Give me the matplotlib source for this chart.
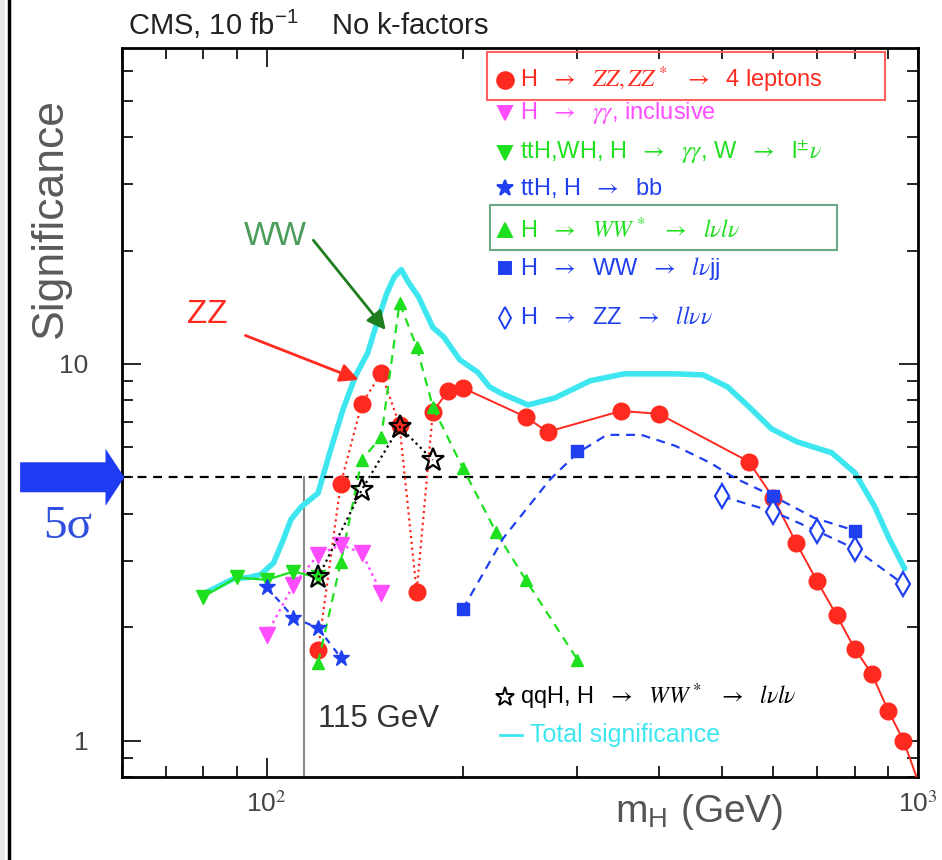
import matplotlib.pyplot as plt
from matplotlib.lines import Line2D
from matplotlib.patches import Rectangle
from matplotlib.ticker import NullFormatter, FixedLocator

plt.rcParams['font.family'] = ['Liberation Sans', 'DejaVu Sans']
plt.rcParams['mathtext.fontset'] = 'stix'

# --- data (mH in GeV, significance) ---
# H -> ZZ(*) -> 4 leptons
zz_m = [120, 130, 140, 150, 160, 170, 180, 190, 200, 250, 270, 350, 400,
        550, 600, 650, 700, 750, 800, 850, 900, 950]
zz_s = [1.74, 4.81, 7.83, 9.46, 6.89, 2.48, 7.46, 8.48, 8.64, 7.23, 6.60,
        7.50, 7.37, 5.50, 4.40, 3.35, 2.65, 2.15, 1.75, 1.50, 1.20, 1.00]
zz_tail_m = [950, 1000]
zz_tail_s = [1.00, 0.78]

# H -> gamma gamma inclusive
gg_m = [100, 110, 120, 130, 140, 150]
gg_s = [1.91, 2.59, 3.11, 3.31, 3.15, 2.47]

# ttH, WH, H -> gamma gamma, W -> l nu
ttgg_m = [80, 90, 100, 110, 120]
ttgg_s = [2.41, 2.71, 2.67, 2.81, 2.71]

# ttH, H -> bb
ttbb_m = [100, 110, 120, 130]
ttbb_s = [2.56, 2.12, 1.99, 1.66]

# H -> WW* -> l nu l nu
ww_m = [120, 130, 140, 150, 160, 170, 180, 200, 225, 250, 300]
ww_s = [1.61, 2.97, 5.56, 6.40, 14.5, 11.1, 7.69, 5.30, 3.58, 2.67, 1.64]

# H -> WW -> l nu jj (markers + drawn curve)
wwjj_m = [200, 300, 600, 800]
wwjj_s = [2.23, 5.88, 4.47, 3.61]
wwjj_curve_m = [200, 231, 272, 300, 333, 376, 424, 480, 523, 600, 693, 800]
wwjj_curve_s = [2.23, 3.45, 4.92, 5.80, 6.48, 6.48, 6.06, 5.46, 4.98, 4.45, 3.90, 3.61]

# H -> ZZ -> ll nu nu
zznn_m = [500, 600, 700, 800, 950]
zznn_s = [4.45, 4.05, 3.60, 3.23, 2.60]

# qqH, H -> WW* -> l nu l nu
qqh_m = [120, 140, 160, 180]
qqh_s = [2.71, 4.63, 6.81, 5.56]

# total significance
tot_m = [80, 89, 94, 98, 102.5, 106, 109, 113, 120, 125, 131, 137, 143, 148,
         153, 157, 161, 165, 171, 180, 187, 198, 211, 220, 229, 252, 277, 314,
         354, 424, 468, 510, 550, 596, 652, 737, 800, 858, 902, 954]
tot_s = [2.45, 2.69, 2.71, 2.76, 2.96, 3.40, 3.86, 4.17, 4.54, 5.80, 7.56,
         9.30, 10.7, 13.0, 15.4, 17.0, 17.8, 16.5, 15.1, 12.5, 11.8, 10.25,
         9.5, 8.69, 8.36, 7.78, 8.12, 9.02, 9.41, 9.41, 9.35, 8.69, 7.7,
         6.72, 6.21, 5.81, 5.14, 4.18, 3.45, 2.86]

RED = '#ff2a1f'
MAG = '#ff4dff'
GRN = '#1fe01f'
BLU = '#2040f0'
CYA = '#3ee6f0'

W, H = 942, 860


def fx(x):
    return x / W


def fy(y):
    return 1 - y / H


fig = plt.figure(figsize=(W / 100, H / 100), dpi=100)
ax = fig.add_axes([fx(122), fy(777), (918 - 122) / W, (777 - 48) / H])
ax.set_xscale('log')
ax.set_yscale('log')
ax.set_xlim(60, 1000)
ax.set_ylim(0.8, 69)

ax.plot(tot_m, tot_s, color=CYA, lw=4, solid_capstyle='round', zorder=2)

ax.axhline(5, color='k', ls=(0, (4, 3)), lw=1.6, zorder=3)
ax.plot([114, 114], [0.8, 5], color='#888888', lw=1.5, zorder=1)

# ZZ -> 4l
ax.plot(zz_m[:7], zz_s[:7], ls=':', color=RED, lw=1.6, zorder=4)
ax.plot(zz_m[6:], zz_s[6:], '-', color=RED, lw=1.4, zorder=4)
ax.plot(zz_tail_m, zz_tail_s, '-', color=RED, lw=1.4, zorder=4)
ax.plot(zz_m, zz_s, 'o', ms=12, color=RED, zorder=5)

# WW -> 2l2nu
ax.plot(ww_m, ww_s, ls=(0, (4, 3)), color=GRN, lw=1.6, marker='^', ms=9, zorder=6)

# gamma gamma inclusive
ax.plot(gg_m, gg_s, ls=':', color=MAG, lw=1.8, marker='v', ms=11, zorder=6)

# ttH, WH gamma gamma
ax.plot(ttgg_m, ttgg_s, '-', color=GRN, lw=1.6, marker='v', ms=10, zorder=6)

# ttH bb
ax.plot(ttbb_m, ttbb_s, ls=(0, (3, 3)), color=BLU, lw=1.6, marker='*', ms=12, zorder=6)

# WW -> lnu jj
ax.plot(wwjj_curve_m, wwjj_curve_s, ls=(0, (4, 3)), color=BLU, lw=1.6, zorder=6)
ax.plot(wwjj_m, wwjj_s, 's', color=BLU, ms=9, zorder=7)

# ZZ -> ll nu nu
ax.plot(zznn_m, zznn_s, ls=(0, (4, 3)), color=BLU, lw=1.6, marker='d', ms=12,
        mfc='white', mec=BLU, mew=1.6, zorder=6)

# qqH WW
ax.plot(qqh_m, qqh_s, ls=':', color='k', lw=1.6, marker='*', ms=17,
        mfc='none', mec='k', mew=1.6, zorder=8)

# axes styling
for sp in ax.spines.values():
    sp.set_linewidth(2)
ax.tick_params(which='both', direction='in', top=True, right=True, width=1.2,
               colors='k', labelcolor='#444444', labelsize=19)
ax.tick_params(which='major', length=14)
ax.tick_params(which='minor', length=8)
ax.tick_params(axis='y', which='major', pad=24)
ax.tick_params(axis='x', which='major', pad=10)
ax.xaxis.set_major_locator(FixedLocator([100, 1000]))
ax.set_xticklabels([r'10$^{2}$', r'10$^{3}$'])
ax.yaxis.set_major_locator(FixedLocator([1, 10]))
ax.set_yticklabels(['1', '10'])
ax.xaxis.set_minor_formatter(NullFormatter())
ax.yaxis.set_minor_formatter(NullFormatter())

# annotations
ax.text(120, 1.14, '115 GeV', fontsize=22.5, color='#333333', va='center', ha='left')
ax.text(81, 13.5, 'ZZ', fontsize=24, color=RED, ha='center', va='center')
ax.annotate('', xy=(138.5, 9.07), xytext=(92.8, 11.9),
            arrowprops=dict(arrowstyle='-|>', color=RED, lw=2, mutation_scale=28,
                            shrinkA=0, shrinkB=0))
ax.text(103, 21.8, 'WW', fontsize=24, color='#4c9c5c', ha='center', va='center')
ax.annotate('', xy=(152.4, 12.3), xytext=(118, 21.3),
            arrowprops=dict(arrowstyle='-|>', color='#1e7d1e', lw=2, mutation_scale=28,
                            shrinkA=0, shrinkB=0))

# 5 sigma arrow
ax.annotate('', xy=(0.003, 5), xycoords=ax.get_yaxis_transform(),
            xytext=(-0.128, 5), textcoords=ax.get_yaxis_transform(),
            annotation_clip=False,
            arrowprops=dict(arrowstyle='simple,head_length=0.34,head_width=1.03,tail_width=0.54',
                            mutation_scale=40, color='#1f3cf5', lw=0, shrinkA=0, shrinkB=0))
fig.text(fx(68), fy(527), '5σ', fontsize=34, color='#3050e0',
         family='Liberation Serif', ha='center', va='center')

# texts outside the frame
fig.text(fx(128), fy(25), r'CMS, 10 fb$^{\mathregular{-1}}$    No k-factors',
         fontsize=21, color='#222222', va='center', ha='left')
fig.text(fx(50), fy(218), 'Significance', fontsize=32, color='#5a5a5a',
         rotation=90, ha='center', va='center')
fig.text(fx(783), fy(812), r'm$_\mathregular{H}$ (GeV)', fontsize=28,
         color='#555555', ha='right', va='center')

# legend (drawn by hand, like the ROOT original)
legend_rows = [
    (80, 'o', RED, RED, 12, r'H  $\rightarrow$  $ZZ, ZZ^*$  $\rightarrow$  4 leptons', RED),
    (113, 'v', MAG, MAG, 10, r'H  $\rightarrow$  $\gamma\gamma$, inclusive', MAG),
    (153, 'v', GRN, GRN, 10, r'ttH,WH, H  $\rightarrow$  $\gamma\gamma$, W  $\rightarrow$  l$^{\pm}\nu$', GRN),
    (188, '*', BLU, BLU, 12, r'ttH, H  $\rightarrow$  bb', BLU),
    (230, '^', GRN, GRN, 10, r'H  $\rightarrow$  $WW^*$  $\rightarrow$  $l\nu l\nu$', GRN),
    (268, 's', BLU, BLU, 9, r'H  $\rightarrow$  WW  $\rightarrow$  $l\nu$jj', BLU),
    (318, 'd', 'white', BLU, 11, r'H  $\rightarrow$  ZZ  $\rightarrow$  $ll\nu\nu$', BLU),
    (697, '*', 'white', 'k', 14, r'qqH, H  $\rightarrow$  $WW^*$  $\rightarrow$  $l\nu l\nu$', 'k'),
]
for y, mk, fc, ec, ms, label, tc in legend_rows:
    fig.add_artist(Line2D([fx(505)], [fy(y)], marker=mk, ms=ms, mfc=fc, mec=ec,
                          mew=1.4, ls='none', transform=fig.transFigure))
    fig.text(fx(520), fy(y), label, fontsize=17, color=tc, va='center', ha='left')

fig.add_artist(Line2D([fx(500), fx(522)], [fy(735), fy(735)], color=CYA, lw=2,
                      transform=fig.transFigure))
fig.text(fx(530), fy(735), 'Total significance', fontsize=18, color=CYA,
         va='center', ha='left')

fig.add_artist(Rectangle((fx(487), fy(100)), (885 - 487) / W, (100 - 52) / H,
                         fill=False, ec='#ff6060', lw=1.5, transform=fig.transFigure))
fig.add_artist(Rectangle((fx(490), fy(250)), (837 - 490) / W, (250 - 205) / H,
                         fill=False, ec='#6aaa88', lw=1.5, transform=fig.transFigure))

# slide frame at the left edge
fig.add_artist(Rectangle((0, 0), fx(5), 1, color='#e6e6e6', lw=0,
                         transform=fig.transFigure))
fig.add_artist(Line2D([fx(9), fx(9)], [0, 1], color='k', lw=2.5,
                      transform=fig.transFigure))

fig.savefig('out.png', dpi=100)
